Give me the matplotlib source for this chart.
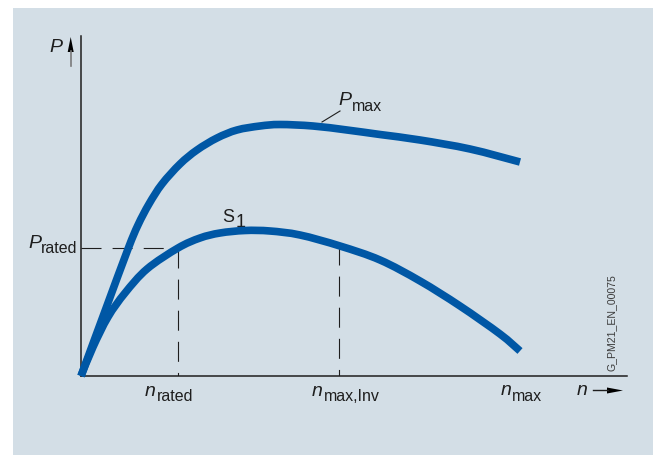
import matplotlib
matplotlib.use("Agg")
import numpy as np
import matplotlib.pyplot as plt
from matplotlib.patches import Rectangle, Polygon, PathPatch
from matplotlib.path import Path

# curve data (n and P in arbitrary units)
pmax_n = [0, 24, 47, 57, 68, 81, 99, 116, 136, 156, 179, 199, 232, 266, 299, 339, 389, 439]
pmax_P = [0, 65, 127, 151, 172, 192, 212, 226, 238, 246, 250, 251.5, 250, 246, 241.5, 236, 227, 214]

s1_n = [0, 12, 27, 44, 66, 97, 119, 139, 164, 189, 219, 259, 299, 339, 379, 419, 439]
s1_P = [0, 29, 59, 83, 107, 128, 138, 143, 145.5, 145, 141, 130, 116, 95, 70, 42, 25]

n_rated = 97
P_rated = 128
n_max_inv = 258
n_max = 439

W, H = 653, 456
blue = "#0057a5"
ink = "#1e1e1e"
font = "Liberation Sans"


def smooth_path(xs, ys):
    # Catmull-Rom through the read points, drawn as cubic Bezier segments
    p = np.column_stack([xs, ys]).astype(float)
    ext = np.vstack([p[0], p, p[-1]])
    verts = [p[0]]
    codes = [Path.MOVETO]
    for i in range(1, len(ext) - 2):
        c1 = ext[i] + (ext[i + 1] - ext[i - 1]) / 6
        c2 = ext[i + 1] - (ext[i + 2] - ext[i]) / 6
        verts += [c1, c2, ext[i + 1]]
        codes += [Path.CURVE4] * 3
    return Path(verts, codes)


fig = plt.figure(figsize=(W / 100, H / 100), dpi=100)
fig.patch.set_facecolor("white")

# overlay axes in pixel coordinates for the panel and decorations
deco = fig.add_axes([0, 0, 1, 1])
deco.set_xlim(0, W)
deco.set_ylim(H, 0)
deco.axis("off")
deco.add_patch(Rectangle((13, 9), W - 13, H - 9, facecolor="#d3dee6", edgecolor="none"))

ax = fig.add_axes([81 / W, 1 - 377 / H, 546 / W, 340 / H])
ax.set_xlim(0, 546)
ax.set_ylim(0, 340)
ax.patch.set_alpha(0)
for s in ["top", "right"]:
    ax.spines[s].set_visible(False)
for s in ["left", "bottom"]:
    ax.spines[s].set_linewidth(1.1)
    ax.spines[s].set_color(ink)
ax.set_xticks([])
ax.set_yticks([])

for xs, ys in [(pmax_n, pmax_P), (s1_n, s1_P)]:
    ax.add_patch(PathPatch(smooth_path(xs, ys), facecolor="none", edgecolor=blue,
                           lw=5.5, capstyle="butt", joinstyle="round",
                           clip_on=False, zorder=3))

dash = (0, (18, 10))
ax.plot([0, n_rated], [P_rated, P_rated], color=ink, lw=0.8, ls=dash, zorder=2)
ax.plot([n_rated, n_rated], [P_rated, 0], color=ink, lw=0.8, ls=dash, zorder=2)
ax.plot([n_max_inv, n_max_inv], [131, 0], color=ink, lw=0.8, ls=dash, zorder=2)

# axis arrows
deco.plot([70.7, 70.7], [67, 52], color="#7a7a7a", lw=1.2)
deco.add_patch(Polygon([[67.7, 53], [73.7, 53], [70.7, 38]], closed=True,
                       facecolor="black", edgecolor="none"))
deco.plot([593, 608], [391.5, 391.5], color=ink, lw=1.0)
deco.add_patch(Polygon([[607, 388.5], [607, 394.5], [623, 391.5]], closed=True,
                       facecolor="black", edgecolor="none"))

# Pmax leader line
deco.plot([322, 340], [123, 112], color=ink, lw=0.8)


def lab(x, y, s, size, style="normal"):
    deco.text(x, y, s, fontsize=size, family=font, style=style, color=ink,
              ha="left", va="baseline")


lab(49, 52, "P", 14, "italic")
lab(28, 248, "P", 14, "italic")
lab(41, 253, "rated", 11.5)
lab(338, 105, "P", 14, "italic")
lab(352, 111, "max", 11.5)
lab(222, 222, "S", 13)
lab(236, 227, "1", 13)
lab(145, 396, "n", 14, "italic")
lab(157, 401, "rated", 11.5)
lab(312, 396, "n", 14, "italic")
lab(324, 401, "max,Inv", 11.5)
lab(501, 395, "n", 14, "italic")
lab(512, 401, "max", 11.5)
lab(577, 395, "n", 14, "italic")

deco.text(615, 371, "G_PM21_EN_00075", fontsize=7.6, family=font, color="#3a3a3a",
          rotation=90, rotation_mode="anchor", ha="left", va="baseline")

fig.savefig("out.png", dpi=100)
